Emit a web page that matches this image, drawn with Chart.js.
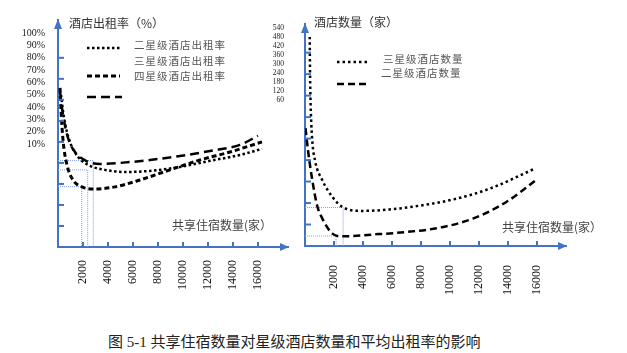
<!DOCTYPE html>
<html>
<head>
<meta charset="utf-8">
<script src="https://cdn.jsdelivr.net/npm/chart.js@4"></script>
<style>
  body { margin: 0; background: #fff; width: 627px; height: 353px; position: relative; overflow: hidden; }
  canvas { position: absolute; top: 0; }
  #occ { left: 0; }
  #cnt { left: 260px; }
  #caption {
    position: absolute; left: 108px; top: 330px;
    font: 15px "Liberation Serif", "Noto Sans CJK SC", serif; color: #222; white-space: nowrap;
  }
</style>
</head>
<body>
<canvas id="occ" width="300" height="320"></canvas>
<canvas id="cnt" width="367" height="320"></canvas>
<div id="caption">图 5-1 共享住宿数量对星级酒店数量和平均出租率的影响</div>
<script>
// left panel: occupancy rate (schematic units, one tick = 10)
const occTwoX = [240, 480, 960, 1600, 2560, 3760, 5360, 7360, 9760, 12160, 14560, 16320];
const occTwoY = [72.4, 61.4, 50, 42.9, 38.6, 36.7, 35.7, 36.2, 38.1, 41, 43.8, 46.7];
const occThreeX = [160, 240, 400, 720, 1200, 1920, 2960, 4560, 6560, 8960, 11360, 13760, 16320];
const occThreeY = [75.7, 65.2, 51, 39, 31.9, 28.6, 27.6, 28.6, 31.9, 36.7, 41.4, 45.2, 50];
const occFourX = [160, 400, 800, 1360, 2240, 3360, 4960, 7360, 9760, 12160, 14560, 16000];
const occFourY = [73.8, 62.9, 51.9, 45.2, 41, 39.5, 40, 41.4, 43.3, 45.7, 48.6, 52.9];
const occGuides = [[2824, 41.1], [2376, 36.7], [1896, 28.7]];
const occTickValues = [10, 20, 30, 40, 50, 60, 70, 80, 90, 100];
const occAxisTicks = [10, 20, 30, 40, 50, 60, 70, 80, 90];
const occLegend = ['二星级酒店出租率', '三星级酒店出租率', '四星级酒店出租率'];

// right panel: hotel count
const cntThreeX = [325, 346, 381, 484, 692, 1197, 1889, 2581, 3965, 5813, 8117, 10428, 12733, 15847];
const cntThreeY = [584, 491, 407, 305, 239, 183.5, 137, 109, 98, 102, 114, 132, 160, 216];
const cntTwoX = [35, 208, 505, 830, 1197, 1889, 2581, 4657, 6968, 9273, 11577, 13888, 15964];
const cntTwoY = [329, 267, 183.5, 114, 76.5, 34.6, 27, 32, 39, 51, 76.5, 123, 185];
const cntGuides = [[2630, 107.5], [2145, 28]];
const cntTickValues = [60, 120, 180, 240, 300, 360, 420, 480, 540];
const cntAxisTicks = [60, 120, 180, 240, 300, 360, 420, 480, 540];
const cntLegend = ['三星级酒店数量', '二星级酒店数量'];

const xTickValues = [2000, 4000, 6000, 8000, 10000, 12000, 14000, 16000];

const BLUE = '#4472C4';
const pts = (xs, ys) => xs.map((x, i) => ({x, y: ys[i]}));
const guide = g => ({
  data: [{x: 0, y: g[1]}, {x: g[0], y: g[1]}, {x: g[0], y: 0}],
  borderColor: '#7FA0DA', borderWidth: 1, borderDash: [1, 1], tension: 0, pointRadius: 0
});
const curve = (data, width, dash) => ({
  data, borderColor: '#000', borderWidth: width, borderDash: dash,
  pointRadius: 0, tension: 0.4, cubicInterpolationMode: 'monotone'
});
const noPad = s => { s.paddingLeft = 0; s.paddingRight = 0; s.paddingTop = 0; s.paddingBottom = 0; };

const deco = {
  id: 'deco',
  afterDraw(chart, args, o) {
    const {ctx, chartArea: a, scales} = chart;
    const seg = (x1, y1, x2, y2) => { ctx.beginPath(); ctx.moveTo(x1, y1); ctx.lineTo(x2, y2); ctx.stroke(); };
    ctx.save();
    ctx.strokeStyle = BLUE; ctx.fillStyle = BLUE; ctx.lineWidth = 2;
    o.yTicks.forEach(v => { const p = scales.y.getPixelForValue(v); seg(a.left, p, a.left + 6, p); });
    xTickValues.forEach(v => { const p = scales.x.getPixelForValue(v); seg(p, a.bottom, p, a.bottom - 5); });
    // arrow heads
    ctx.beginPath();
    ctx.moveTo(a.left, a.top - 1); ctx.lineTo(a.left - 4, a.top + 9); ctx.lineTo(a.left + 4, a.top + 9);
    ctx.fill();
    ctx.beginPath();
    ctx.moveTo(a.right + 1, a.bottom); ctx.lineTo(a.right - 8, a.bottom - 4); ctx.lineTo(a.right - 8, a.bottom + 4);
    ctx.fill();

    ctx.textBaseline = 'middle'; ctx.textAlign = 'left';
    ctx.fillStyle = '#333';
    ctx.font = '12px "Noto Sans CJK SC"';
    ctx.fillText(o.title[0], o.title[1], o.title[2]);
    ctx.fillStyle = '#444';
    ctx.fillText(o.xTitle[0], o.xTitle[1], o.xTitle[2]);

    ctx.fillStyle = '#555';
    ctx.font = '10.5px "Noto Sans CJK SC"';
    ctx.letterSpacing = '1px';
    o.legendText.forEach(t => ctx.fillText(t[0], t[1], t[2]));
    ctx.letterSpacing = '0px';
    o.samples.forEach(s => {
      const ds = chart.data.datasets[s[0]];
      ctx.strokeStyle = '#000'; ctx.lineWidth = ds.borderWidth; ctx.setLineDash(ds.borderDash);
      seg(s[1], s[3], s[2], s[3]);
    });
    ctx.restore();
  }
};

function makeChart(id, cfg) {
  return new Chart(document.getElementById(id), {
    type: 'line',
    data: {datasets: cfg.datasets},
    plugins: [deco],
    options: {
      responsive: false, animation: false, devicePixelRatio: 1,
      layout: {padding: cfg.padding},
      plugins: {legend: {display: false}, tooltip: {enabled: false}, deco: cfg.deco},
      scales: {
        x: {
          type: 'linear', min: 0, max: cfg.xMax,
          afterBuildTicks: s => { s.ticks = xTickValues.map(v => ({value: v})); },
          afterFit: s => { s.height = 60; noPad(s); },
          grid: {display: false},
          border: {display: true, color: BLUE, width: 2},
          ticks: {
            autoSkip: false, minRotation: 90, maxRotation: 90,
            padding: cfg.xPad, color: '#111',
            font: {family: 'Liberation Serif', size: 12},
            callback: v => (v < 10000 ? '  ' + v : String(v))
          }
        },
        y: {
          type: 'linear', min: 0, max: cfg.yMax, weight: 0,
          afterFit: s => { s.width = 0; noPad(s); },
          grid: {display: false},
          border: {display: true, color: BLUE, width: 2},
          ticks: {display: false}
        },
        yLab: {
          type: 'linear', position: 'left', min: cfg.labMin, max: cfg.labMax, weight: 1,
          afterBuildTicks: s => { s.ticks = cfg.labValues.map(v => ({value: v})); },
          afterFit: s => { s.width = cfg.labW; noPad(s); },
          grid: {display: false},
          border: {display: false},
          ticks: {
            autoSkip: false, padding: cfg.labPad, color: '#222',
            font: {family: 'Liberation Serif', size: cfg.labSize},
            callback: v => v + cfg.labSuffix
          }
        }
      }
    }
  });
}

makeChart('occ', {
  datasets: [
    curve(pts(occTwoX, occTwoY), 2.5, [2.5, 2.5]),
    curve(pts(occThreeX, occThreeY), 3, [5, 3]),
    curve(pts(occFourX, occFourY), 2.5, [9, 5]),
    ...occGuides.map(guide)
  ],
  padding: {left: 8, right: 12, top: 20, bottom: 13},
  xMax: 18400, yMax: 108, xPad: 5,
  labW: 50, labMin: -73.5, labMax: 110.6, labPad: 5, labSize: 10,
  labValues: occTickValues, labSuffix: '%',
  deco: {
    yTicks: occAxisTicks,
    title: ['酒店出租率（%）', 69, 23],
    xTitle: ['共享住宿数量(家）', 172, 225],
    legendText: [[occLegend[0], 134, 45], [occLegend[1], 134, 61], [occLegend[2], 134, 76]],
    samples: [[0, 87, 120, 48], [1, 87, 120, 76], [2, 87, 122, 97]]
  }
});

makeChart('cnt', {
  datasets: [
    curve(pts(cntThreeX, cntThreeY), 2.5, [2.5, 3]),
    curve(pts(cntTwoX, cntTwoY), 2.5, [7, 4]),
    ...cntGuides.map(guide)
  ],
  padding: {left: 5, right: 61, top: 24, bottom: 14},
  xMax: 18000, yMax: 620, xPad: 11,
  labW: 40, labMin: -913, labMax: 567, labPad: 13, labSize: 7.5,
  labValues: cntTickValues, labSuffix: '',
  deco: {
    yTicks: cntAxisTicks,
    title: ['酒店数量（家）', 54, 22],
    xTitle: ['共享住宿数量(家）', 242, 227],
    legendText: [[cntLegend[0], 123, 59], [cntLegend[1], 121, 73]],
    samples: [[0, 77, 108, 62], [1, 77, 110, 84]]
  }
});
</script>
</body>
</html>
